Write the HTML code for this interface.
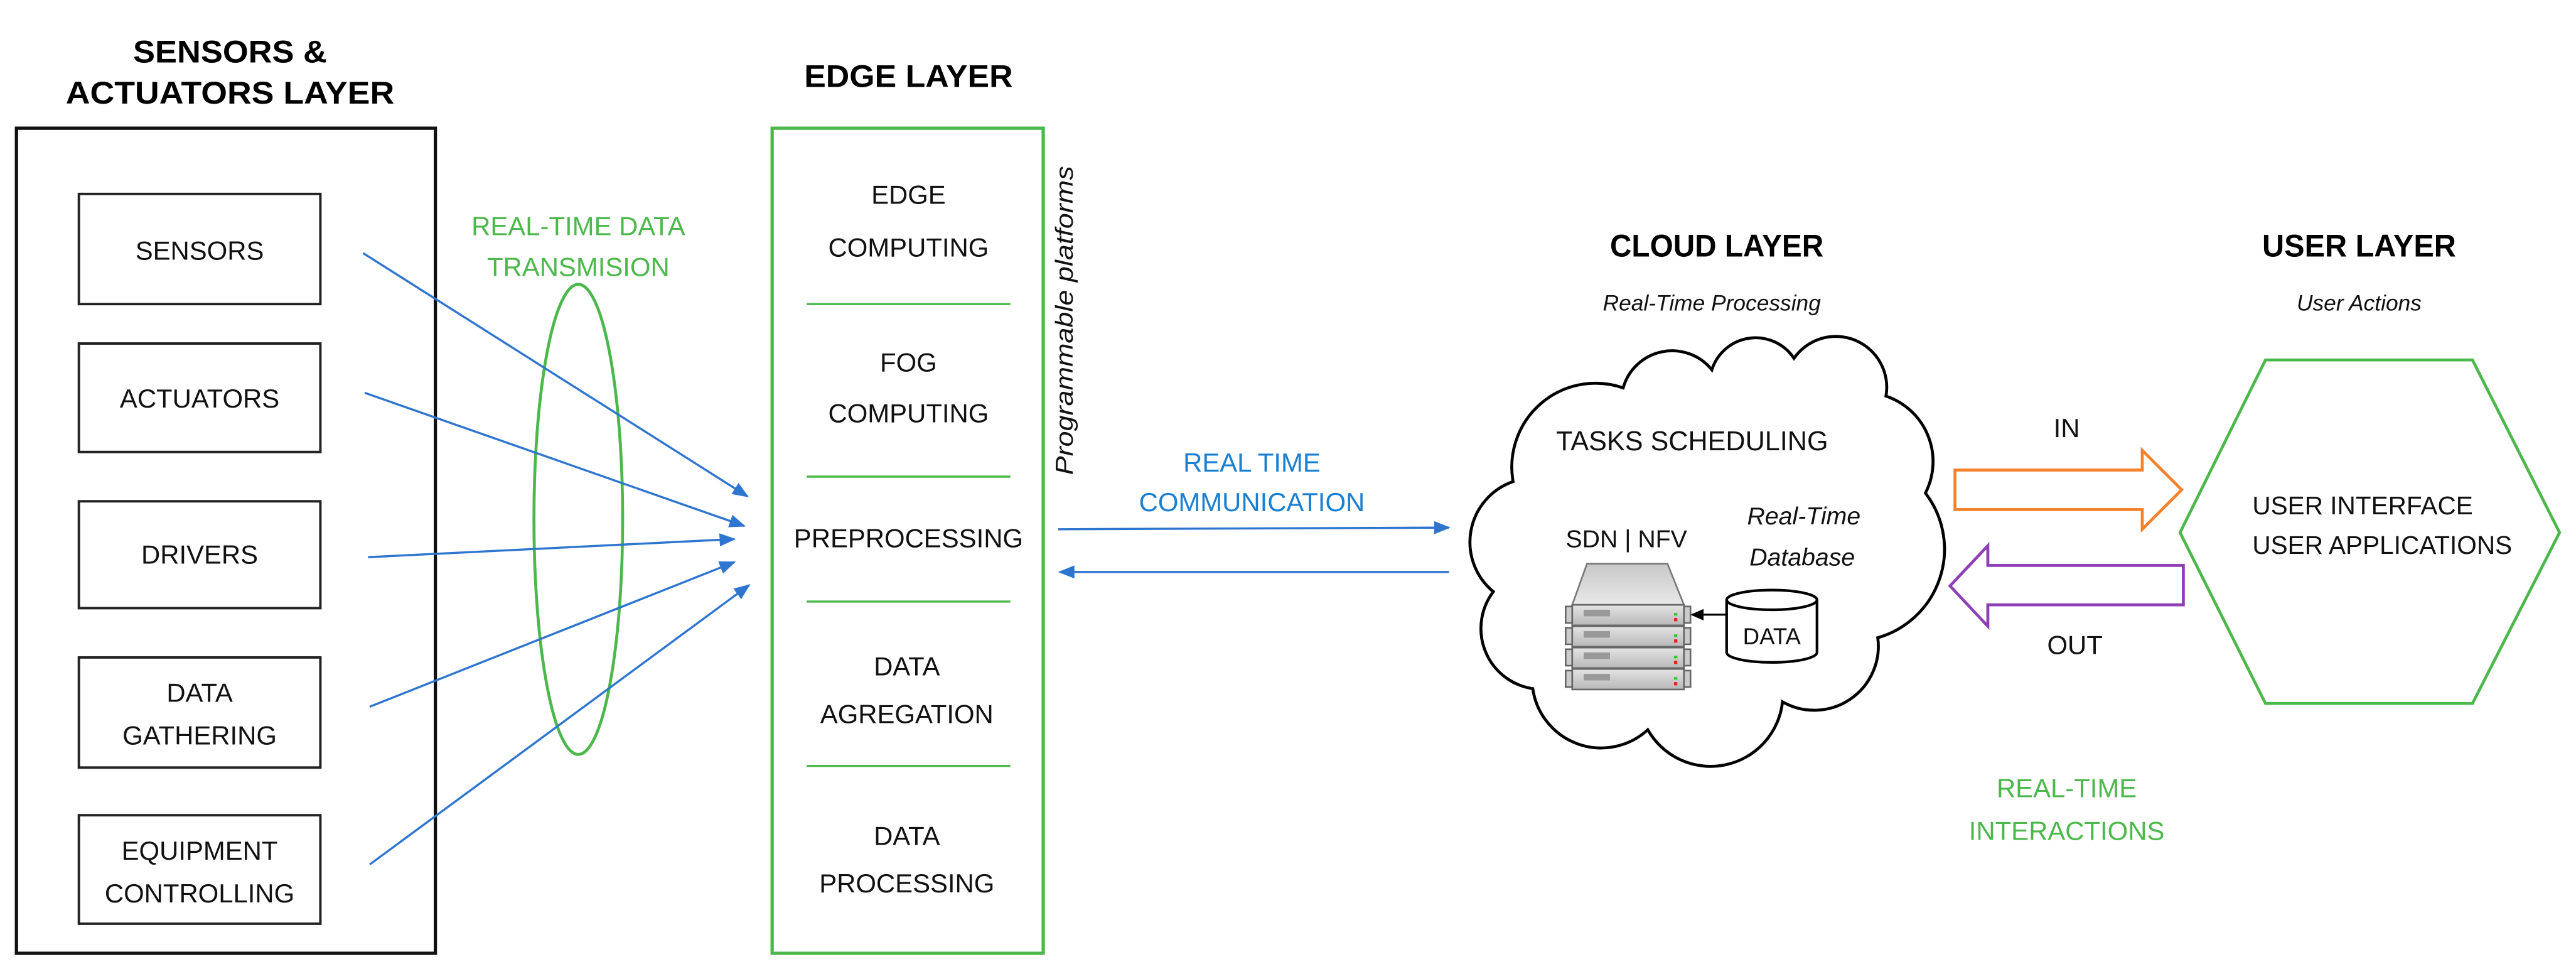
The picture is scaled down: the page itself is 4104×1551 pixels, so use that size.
<!DOCTYPE html>
<html><head><meta charset="utf-8"><style>html,body{margin:0;padding:0;background:#fff}svg{display:block}</style></head>
<body>
<svg width="4104" height="1551" viewBox="0 0 1568 592.6" xmlns="http://www.w3.org/2000/svg" font-family="Liberation Sans, sans-serif">
<defs>
<marker id="ab" markerWidth="10" markerHeight="8" refX="9" refY="4" orient="auto" markerUnits="userSpaceOnUse"><path d="M0,0 L10,4 L0,8 Z" fill="#2e75d0"/></marker>
<marker id="ak" markerWidth="8" markerHeight="7" refX="7" refY="3.5" orient="auto" markerUnits="userSpaceOnUse"><path d="M0,0 L8,3.5 L0,7 Z" fill="#000"/></marker>
<linearGradient id="sg" x1="0" y1="0" x2="0" y2="1"><stop offset="0" stop-color="#e4e4e4"/><stop offset="1" stop-color="#b8b8b8"/></linearGradient>
<linearGradient id="tg" x1="0" y1="0" x2="0" y2="1"><stop offset="0" stop-color="#c8c8c8"/><stop offset="1" stop-color="#e8e8e8"/></linearGradient>
</defs>

<g font-weight="bold" fill="#000" text-anchor="middle" font-size="19">
<text x="140" y="38" textLength="118" lengthAdjust="spacingAndGlyphs">SENSORS &amp;</text>
<text x="140" y="63" textLength="200" lengthAdjust="spacingAndGlyphs">ACTUATORS LAYER</text>
<text x="553" y="53" textLength="127" lengthAdjust="spacingAndGlyphs">EDGE LAYER</text>
<text x="1045" y="156" textLength="130" lengthAdjust="spacingAndGlyphs">CLOUD LAYER</text>
<text x="1436" y="156" textLength="118" lengthAdjust="spacingAndGlyphs">USER LAYER</text>
</g>
<rect x="10" y="78" width="255" height="502" fill="none" stroke="#111" stroke-width="2"/>
<g fill="none" stroke="#222" stroke-width="1.5">
<rect x="48" y="118" width="147" height="67"/>
<rect x="48" y="209" width="147" height="66"/>
<rect x="48" y="305" width="147" height="65"/>
<rect x="48" y="400" width="147" height="67"/>
<rect x="48" y="496" width="147" height="66"/>
</g>
<g font-size="16" text-anchor="middle" fill="#111">
<text x="121.5" y="158">SENSORS</text>
<text x="121.5" y="248">ACTUATORS</text>
<text x="121.5" y="343">DRIVERS</text>
<text x="121.5" y="427">DATA</text>
<text x="121.5" y="453">GATHERING</text>
<text x="121.5" y="523">EQUIPMENT</text>
<text x="121.5" y="549">CONTROLLING</text>
</g>

<g font-size="16" text-anchor="middle" fill="#4cb84c">
<text x="352" y="143">REAL-TIME DATA</text>
<text x="352" y="168">TRANSMISION</text>
<text x="1258" y="485">REAL-TIME</text>
<text x="1258" y="511">INTERACTIONS</text>
</g>
<ellipse cx="352" cy="316" rx="27" ry="143" fill="none" stroke="#4cb84c" stroke-width="1.8"/>

<g stroke="#2e75d0" stroke-width="1.3" fill="none" marker-end="url(#ab)">
<line x1="221" y1="154" x2="455" y2="302"/>
<line x1="222" y1="239" x2="453" y2="320"/>
<line x1="224" y1="339" x2="447" y2="328"/>
<line x1="225" y1="430" x2="447" y2="342"/>
<line x1="225" y1="526" x2="456" y2="356"/>
<line x1="644" y1="322" x2="882" y2="321"/>
<line x1="882" y1="348" x2="645" y2="348"/>
</g>

<rect x="470" y="78" width="165" height="502" fill="none" stroke="#4cb84c" stroke-width="2"/>
<g stroke="#4cb84c" stroke-width="1.3">
<line x1="491" y1="185" x2="615" y2="185"/>
<line x1="491" y1="290" x2="615" y2="290"/>
<line x1="491" y1="366" x2="615" y2="366"/>
<line x1="491" y1="466" x2="615" y2="466"/>
</g>
<g font-size="16" text-anchor="middle" fill="#111">
<text x="553" y="124">EDGE</text>
<text x="553" y="156">COMPUTING</text>
<text x="553" y="226">FOG</text>
<text x="553" y="257">COMPUTING</text>
<text x="553" y="333">PREPROCESSING</text>
<text x="552" y="411">DATA</text>
<text x="552" y="440">AGREGATION</text>
<text x="552" y="514">DATA</text>
<text x="552" y="543">PROCESSING</text>
</g>
<text transform="translate(653,195) rotate(-90)" font-size="15" font-style="italic" text-anchor="middle" fill="#111" textLength="188" lengthAdjust="spacingAndGlyphs">Programmable platforms</text>

<g font-size="16" text-anchor="middle" fill="#1a7fd0">
<text x="762" y="287">REAL TIME</text>
<text x="762" y="311">COMMUNICATION</text>
</g>

<g font-size="13.5" font-style="italic" text-anchor="middle" fill="#111">
<text x="1042" y="189">Real-Time Processing</text>
<text x="1436" y="189">User Actions</text>
</g>
<path d="M921,293 A51,51 0 0 1 988,236 A31,31 0 0 1 1042,225 A28,28 0 0 1 1092,218 A31,31 0 0 1 1148,241 A42,42 0 0 1 1172,300 A56,56 0 0 1 1143,388 A39,39 0 0 1 1085,427 A44,44 0 0 1 1003,444 A42,42 0 0 1 933,419 A37,37 0 0 1 909,360 A39,39 0 0 1 921,293 Z" fill="#fff" stroke="#000" stroke-width="1.8"/>
<text x="1030" y="274" font-size="16.5" text-anchor="middle" fill="#111">TASKS SCHEDULING</text>
<text x="990" y="333" font-size="15" text-anchor="middle" fill="#111">SDN | NFV</text>
<g font-size="15" font-style="italic" text-anchor="middle" fill="#111">
<text x="1098" y="319">Real-Time</text>
<text x="1097" y="344">Database</text>
</g>

<g>
<path d="M966,343 L1015,343 L1025,368 L957,368 Z" fill="url(#tg)" stroke="#777" stroke-width="1"/>
<g stroke="#666" stroke-width="1">
<rect x="957" y="368" width="68" height="12.5" fill="url(#sg)"/>
<rect x="957" y="381" width="68" height="12.5" fill="url(#sg)"/>
<rect x="957" y="394" width="68" height="12.5" fill="url(#sg)"/>
<rect x="957" y="407" width="68" height="12.5" fill="url(#sg)"/>
<rect x="953" y="369" width="4" height="10" fill="#ccc"/>
<rect x="953" y="382" width="4" height="10" fill="#ccc"/>
<rect x="953" y="395" width="4" height="10" fill="#ccc"/>
<rect x="953" y="408" width="4" height="10" fill="#ccc"/>
<rect x="1025" y="369" width="4" height="10" fill="#ccc"/>
<rect x="1025" y="382" width="4" height="10" fill="#ccc"/>
<rect x="1025" y="395" width="4" height="10" fill="#ccc"/>
<rect x="1025" y="408" width="4" height="10" fill="#ccc"/>
</g>
<g fill="#999">
<rect x="964" y="371" width="16" height="4"/><rect x="964" y="384" width="16" height="4"/><rect x="964" y="397" width="16" height="4"/><rect x="964" y="410" width="16" height="4"/>
</g>
<g fill="#d22"><rect x="1019" y="376" width="2" height="2"/><rect x="1019" y="389" width="2" height="2"/><rect x="1019" y="402" width="2" height="2"/><rect x="1019" y="415" width="2" height="2"/></g>
<g fill="#2c2"><rect x="1019" y="373" width="2" height="1.5"/><rect x="1019" y="386" width="2" height="1.5"/><rect x="1019" y="399" width="2" height="1.5"/><rect x="1019" y="412" width="2" height="1.5"/></g>
</g>
<line x1="1051" y1="374" x2="1030" y2="374" stroke="#000" stroke-width="1.2" marker-end="url(#ak)"/>
<path d="M1051,365 L1051,397 A27.5,6 0 0 0 1106,397 L1106,365" fill="#fff" stroke="#000" stroke-width="1.6"/>
<ellipse cx="1078.5" cy="365" rx="27.5" ry="6" fill="#fff" stroke="#000" stroke-width="1.6"/>
<text x="1078.5" y="392" font-size="14" text-anchor="middle" fill="#111">DATA</text>

<text x="1258" y="266" font-size="16" text-anchor="middle" fill="#111">IN</text>
<text x="1263" y="398" font-size="16" text-anchor="middle" fill="#111">OUT</text>
<path d="M1190,286 L1304,286 L1304,274 L1328,298 L1304,322 L1304,310 L1190,310 Z" fill="none" stroke="#f5822a" stroke-width="1.8"/>
<path d="M1329,344 L1210,344 L1210,332 L1187,356.5 L1210,381 L1210,368 L1329,368 Z" fill="none" stroke="#8e3fb5" stroke-width="1.8"/>

<polygon points="1327,324 1379,219 1505,219 1558,324 1505,428 1379,428" fill="none" stroke="#4cb84c" stroke-width="1.8"/>
<g font-size="15.5" fill="#111">
<text x="1371" y="313">USER INTERFACE</text>
<text x="1371" y="337">USER APPLICATIONS</text>
</g>
</svg>
</body></html>
